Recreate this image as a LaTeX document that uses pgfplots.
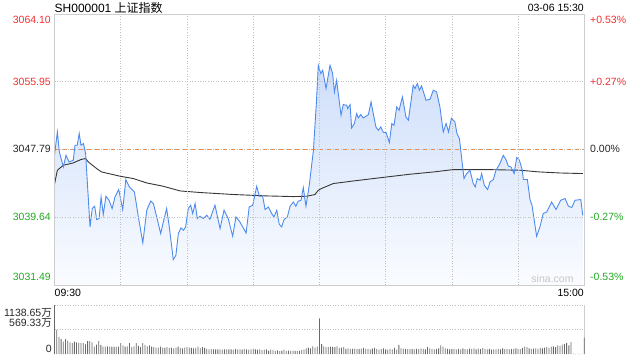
\documentclass[border=0pt]{standalone}
\usepackage{pgfplots}
\pgfplotsset{compat=1.18}
\usepackage{pgfplotstable}
\usepackage{fontspec}
\setmainfont{Liberation Sans}
\newfontfamily\cjk{Noto Sans CJK SC}
\definecolor{upred}{RGB}{240,48,48}
\definecolor{dngreen}{RGB}{34,170,34}
\definecolor{pline}{RGB}{77,139,238}
\definecolor{avgline}{RGB}{55,55,55}
\definecolor{filltop}{RGB}{206,222,250}
\definecolor{fillbot}{RGB}{250,252,255}
\definecolor{refline}{RGB}{238,140,80}
\definecolor{gridc}{RGB}{190,190,190}
\definecolor{borderc}{RGB}{205,205,205}
\definecolor{volc}{RGB}{105,105,105}

\pgfplotstableread{
x p
0 3047.10
1.3 3049.91
2.2 3047.50
4.0 3045.70
5.2 3047.10
6.6 3046.30
8.5 3046.50
9.3 3048.31
10.3 3048.31
11.2 3049.72
12.0 3048.31
13.1 3048.51
14.1 3047.31
15.0 3043.29
16.1 3038.48
17.1 3040.69
18.2 3040.97
19.1 3039.37
20.2 3039.49
21.1 3042.09
22.1 3039.97
23.3 3042.17
24.7 3041.69
26.1 3040.69
27.4 3042.09
29.1 3042.98
30.9 3040.57
32.3 3044.18
33.9 3043.29
36.2 3042.69
38.0 3039.68
40.0 3036.55
41.8 3040.49
43.6 3041.60
44.8 3041.29
46.3 3039.68
48.1 3037.68
49.3 3039.08
50.8 3040.69
52.0 3038.48
53.8 3034.55
55.0 3035.07
56.1 3037.68
57.3 3038.36
58.4 3038.08
59.4 3038.48
60.6 3040.69
61.7 3041.09
62.6 3040.09
63.7 3041.29
64.7 3039.49
65.9 3039.76
67.4 3039.49
69.0 3039.88
70.4 3039.40
72.7 3041.09
75.0 3038.28
76.8 3040.49
78.7 3039.49
80.7 3037.36
82.2 3039.68
84.0 3039.08
86.8 3037.75
88.2 3040.88
89.8 3041.09
91.6 3043.37
92.8 3042.17
94.3 3042.17
95.4 3040.57
96.9 3040.88
98.4 3040.09
99.4 3039.68
100.7 3040.49
101.8 3038.80
102.9 3038.48
104.0 3039.37
105.5 3039.68
106.7 3040.97
108.2 3041.48
109.3 3040.97
110.4 3041.57
111.7 3041.69
112.7 3043.22
113.9 3040.97
115.4 3043.49
117.3 3047.71
118.7 3053.72
119.5 3057.93
120.6 3056.94
121.5 3057.33
123.0 3055.13
124.8 3057.93
126.0 3056.94
126.8 3054.72
127.8 3056.13
129.8 3051.92
130.8 3053.20
132.4 3053.12
132.8 3052.72
133.9 3053.20
134.6 3050.39
135.8 3050.92
136.9 3052.12
137.6 3051.59
138.7 3052.00
139.9 3051.59
142.2 3052.00
143.4 3053.52
144.4 3052.12
145.6 3050.51
146.7 3050.11
147.8 3050.51
149.0 3049.84
150.2 3049.84
151.7 3048.63
152.8 3050.92
153.8 3050.71
155.0 3052.92
156.1 3052.52
157.6 3054.12
159.2 3051.71
160.3 3051.32
162.5 3055.53
163.3 3055.13
164.4 3055.73
165.3 3054.93
166.3 3055.44
168.3 3053.72
170.1 3053.84
171.6 3054.93
173.1 3054.72
174.6 3052.92
176.1 3049.91
177.4 3050.92
178.5 3049.91
179.8 3051.56
181.4 3051.11
182.3 3049.72
183.4 3049.15
185.5 3044.30
186.7 3044.90
188.2 3045.30
189.7 3043.70
190.6 3043.29
191.5 3044.30
192.8 3044.10
193.5 3044.90
194.7 3043.49
196.2 3042.98
197.3 3043.89
198.8 3044.18
200.0 3045.30
201.8 3046.11
203.3 3047.10
204.5 3046.59
205.6 3045.78
206.8 3045.70
208.2 3044.90
209.4 3046.83
210.6 3046.50
211.9 3045.30
212.4 3044.18
214.2 3044.18
215.4 3041.77
216.3 3041.09
218.4 3037.36
219.9 3038.48
221.4 3040.09
223.0 3040.28
225.2 3041.48
227.2 3040.57
229.3 3041.69
231.3 3041.89
232.8 3040.97
234.3 3040.81
235.8 3041.69
238.4 3041.77
239.3 3039.88
}\price

\pgfplotstableread{
x a
0 3043.61
1.3 3045.30
4.0 3045.90
8.5 3046.18
12.0 3046.59
14.1 3046.71
15.3 3046.30
19.1 3045.50
21.4 3045.09
29.7 3044.58
35.7 3044.30
41.8 3043.77
49.3 3043.37
56.9 3042.81
65.9 3042.62
81.0 3042.38
96.1 3042.21
108.2 3042.13
114.3 3042.17
118.0 3042.38
119.5 3042.89
121.2 3043.13
126.3 3043.70
135.4 3044.01
150.5 3044.49
161.0 3044.82
171.6 3045.09
180.7 3045.38
195.8 3045.38
210.9 3045.30
219.9 3045.09
229.0 3044.97
239.3 3044.90
}\avg

\pgfplotstableread[row sep=\\]{
v\\
1138\\ 560\\ 400\\ 345\\ 285\\ 345\\ 310\\ 270\\ 250\\ 285\\
270\\ 260\\ 250\\ 250\\ 225\\ 300\\ 300\\ 270\\ 170\\ 220\\
300\\ 210\\ 170\\ 170\\ 175\\ 170\\ 170\\ 165\\ 170\\ 170\\
250\\ 200\\ 170\\ 175\\ 250\\ 160\\ 180\\ 250\\ 190\\ 160\\
250\\ 210\\ 180\\ 200\\ 170\\ 160\\ 150\\ 150\\ 170\\ 150\\
145\\ 160\\ 140\\ 150\\ 130\\ 150\\ 170\\ 140\\ 130\\ 150\\
160\\ 150\\ 140\\ 130\\ 145\\ 170\\ 130\\ 160\\ 140\\ 120\\
110\\ 115\\ 110\\ 110\\ 110\\ 110\\ 100\\ 110\\ 105\\ 110\\
110\\ 100\\ 120\\ 110\\ 110\\ 100\\ 115\\ 105\\ 100\\ 110\\
120\\ 105\\ 100\\ 110\\ 90\\ 100\\ 110\\ 80\\ 100\\ 90\\
70\\ 85\\ 70\\ 80\\ 100\\ 75\\ 80\\ 70\\ 80\\ 70\\
75\\ 70\\ 95\\ 110\\ 130\\ 150\\ 130\\ 180\\ 150\\ 170\\
830\\ 230\\ 180\\ 160\\ 160\\ 170\\ 165\\ 160\\ 180\\ 140\\
150\\ 160\\ 120\\ 130\\ 120\\ 120\\ 125\\ 120\\ 120\\ 125\\
140\\ 120\\ 120\\ 105\\ 125\\ 140\\ 120\\ 100\\ 115\\ 130\\
110\\ 100\\ 120\\ 110\\ 140\\ 100\\ 210\\ 130\\ 125\\ 120\\
115\\ 120\\ 115\\ 110\\ 120\\ 115\\ 130\\ 120\\ 110\\ 160\\
130\\ 120\\ 110\\ 115\\ 130\\ 200\\ 170\\ 130\\ 120\\ 110\\
120\\ 115\\ 110\\ 120\\ 110\\ 130\\ 115\\ 110\\ 125\\ 120\\
130\\ 110\\ 125\\ 115\\ 140\\ 120\\ 110\\ 120\\ 100\\ 110\\
110\\ 120\\ 110\\ 130\\ 115\\ 120\\ 110\\ 115\\ 120\\ 130\\
120\\ 115\\ 140\\ 170\\ 160\\ 130\\ 120\\ 125\\ 130\\ 120\\
140\\ 130\\ 150\\ 160\\ 140\\ 170\\ 180\\ 160\\ 200\\ 190\\
220\\ 230\\ 250\\ 200\\ 280\\ 10\\ 5\\ 5\\ 5\\ 5\\
380\\
}\vol

\begin{document}
\begin{tikzpicture}
\useasboundingbox (0pt,0pt) rectangle (640pt,360pt);
\begin{axis}[
  at={(54.5pt,75pt)}, anchor=south west,
  width=529.8pt, height=271pt, scale only axis,
  xmin=0, xmax=240, ymin=3031.49, ymax=3064.10,
  xtick={30,60,...,210}, ytick={3039.64,3055.95},
  xticklabels={}, yticklabels={},
  major tick length=0pt,
  grid=major,
  grid style={draw=gridc, line width=0.55pt, dash pattern=on 0.8pt off 1.8pt},
  axis line style={draw=borderc, line width=0.9pt},
  axis on top,
]
\addplot[draw=none, top color=filltop, bottom color=fillbot] table[x=x,y=p] {\price} -- (axis cs:239.3,3031.49) -- (axis cs:0,3031.49) -- cycle;
\addplot[gridc, line width=0.55pt, dash pattern=on 0.8pt off 1.8pt] coordinates {(0,3047.79) (240,3047.79)};
\addplot[refline, line width=1pt, dash pattern=on 4.5pt off 3.5pt] coordinates {(0,3047.79) (240,3047.79)};
\addplot[avgline, line width=0.9pt] table[x=x,y=a] {\avg};
\addplot[pline, line width=0.9pt] table[x=x,y=p] {\price};
\end{axis}

\begin{axis}[
  at={(54.5pt,6pt)}, anchor=south west,
  width=529.8pt, height=49pt, scale only axis,
  xmin=0, xmax=240, ymin=0, ymax=1138.65,
  axis x line=none,
  axis y line*=right,
  y axis line style={draw=borderc, line width=0.9pt},
  ytick={569.33,1138.65}, yticklabels={},
  major tick length=0pt,
  ymajorgrids,
  grid style={draw=gridc, line width=0.55pt, dash pattern=on 0.8pt off 1.8pt},
  clip=false,
]
\addplot[ybar, bar width=0.8pt, fill=volc, draw=none] table[x expr=\coordindex, y=v] {\vol};
\end{axis}

\tikzset{lab/.style={inner sep=0pt, font=\fontsize{10.5}{12}\selectfont}}
\node[lab, anchor=west, font=\fontsize{12}{14}\selectfont] at (54.5pt,352.5pt) {SH000001 {\cjk 上证指数}};
\node[lab, anchor=east] at (584pt,352.3pt) {03-06 15:30};
\node[lab, anchor=east, text=upred] at (51pt,340pt) {3064.10};
\node[lab, anchor=east, text=upred] at (51pt,278.3pt) {3055.95};
\node[lab, anchor=east, text=black!85] at (51pt,210.7pt) {3047.79};
\node[lab, anchor=east, text=dngreen] at (51pt,142.7pt) {3039.64};
\node[lab, anchor=east, text=dngreen] at (51pt,83pt) {3031.49};
\node[lab, anchor=west, text=upred] at (590pt,340pt) {+0.53\%};
\node[lab, anchor=west, text=upred] at (590pt,278.3pt) {+0.27\%};
\node[lab, anchor=west, text=black!85] at (590pt,210.7pt) {0.00\%};
\node[lab, anchor=west, text=dngreen] at (590pt,142.7pt) {-0.27\%};
\node[lab, anchor=west, text=dngreen] at (590pt,83pt) {-0.53\%};
\node[lab, anchor=west] at (54.5pt,67pt) {09:30};
\node[lab, anchor=east] at (584pt,67pt) {15:00};
\node[lab, anchor=east, text=black!85] at (52pt,46.7pt) {1138.65{\cjk 万}};
\node[lab, anchor=east, text=black!85] at (52pt,36.7pt) {569.33{\cjk 万}};
\node[lab, anchor=east, text=black!85] at (52pt,11pt) {0};
\node[lab, text=black!22] at (552.5pt,81pt) {sina.com};
\end{tikzpicture}
\end{document}
